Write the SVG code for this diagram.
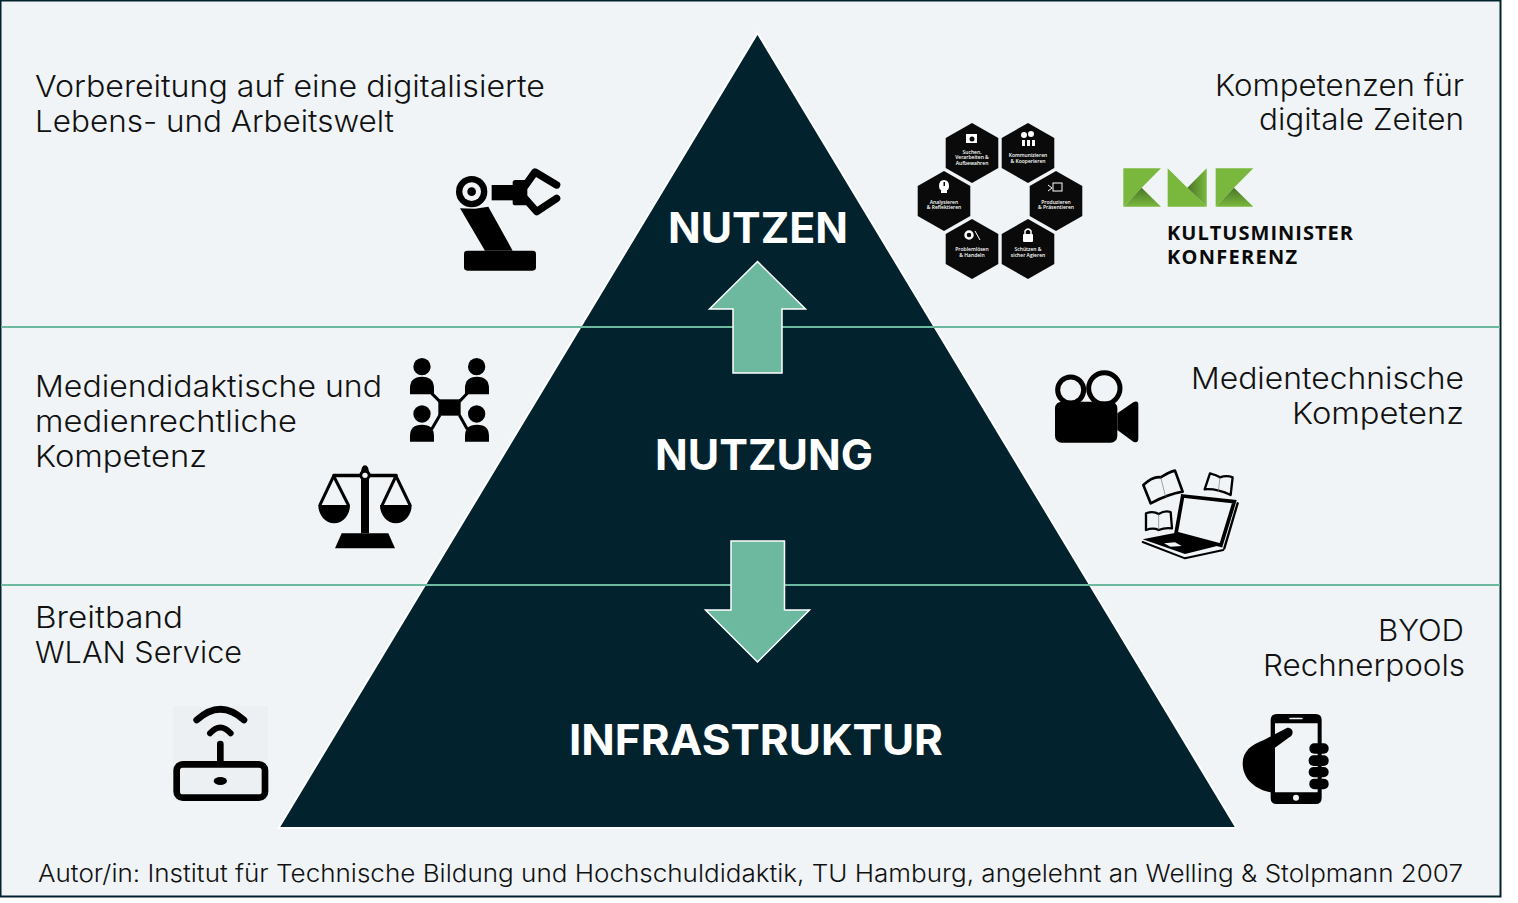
<svg xmlns="http://www.w3.org/2000/svg" width="1518" height="903" viewBox="0 0 1518 903">
<style>
.t{font-family:"Inter","Open Sans","Liberation Sans",sans-serif;font-size:30px;font-weight:300;fill:#111}
.f{font-size:24px}
.p{font-family:"Inter","Open Sans","Liberation Sans",sans-serif;font-size:42px;font-weight:700;fill:#fff}
.h{font-family:"Open Sans","Liberation Sans",sans-serif;font-size:5px;font-weight:600;fill:#fff;text-anchor:middle}
.k{font-family:"Open Sans","Liberation Sans",sans-serif;font-size:20px;font-weight:700;fill:#0a0a0a}
.hex{fill:#0a0a0a}
.d{stroke:#6db9a0;stroke-width:2;fill:none}
.a{fill:#6db9a0;stroke:#fff;stroke-width:1.5}
.ln{fill:none;stroke:#000;stroke-linecap:round;stroke-linejoin:round}
</style>
<defs>
<linearGradient id="g1" x1=".5" y1="0" x2=".5" y2="1"><stop offset="0" stop-color="#4a7528"/><stop offset="1" stop-color="#7ab83d"/></linearGradient>
<linearGradient id="g2" x1="0" y1=".5" x2="1" y2=".5"><stop offset="0" stop-color="#4a7528"/><stop offset="1" stop-color="#7ab83d"/></linearGradient>
<polygon id="hx" points="0,-30 26.3,-15 26.3,15 0,30 -26.3,15 -26.3,-15"/>
</defs>
<rect x="0" y="0" width="1518" height="903" fill="#fff"/>
<rect x="0.500" y="0.500" width="1500" height="896" fill="#f0f4f7" stroke="#02222e" stroke-width="2"/>

<g id="pyramid">
<polygon points="757.500,33 1236.500,828 278.500,828" fill="#02222e" stroke="#fff" stroke-width="2"/>
<text class="p" x="668" y="243" textLength="180" lengthAdjust="spacingAndGlyphs">NUTZEN</text>
<text class="p" x="655" y="470" textLength="218" lengthAdjust="spacingAndGlyphs">NUTZUNG</text>
<text class="p" x="569" y="755" textLength="374" lengthAdjust="spacingAndGlyphs">INFRASTRUKTUR</text>
</g>

<g id="connectors">
<line class="d" x1="1" y1="327" x2="1500" y2="327"/>
<line class="d" x1="1" y1="585" x2="1500" y2="585"/>
<polygon class="a" points="757.500,261.500 805.500,309 782,309 782,373 733,373 733,309 709.500,309"/>
<polygon class="a" points="731,541 784.500,541 784.500,610 809.500,610 757.500,662 705.500,610 731,610"/>
</g>

<g id="text-top-left">
<text class="t" x="35" y="97" textLength="510" lengthAdjust="spacingAndGlyphs">Vorbereitung auf eine digitalisierte</text>
<text class="t" x="35" y="132" textLength="359" lengthAdjust="spacingAndGlyphs">Lebens- und Arbeitswelt</text>
</g>
<g id="text-mid-left">
<text class="t" x="35" y="397" textLength="347" lengthAdjust="spacingAndGlyphs">Mediendidaktische und</text>
<text class="t" x="35" y="432" textLength="262" lengthAdjust="spacingAndGlyphs">medienrechtliche</text>
<text class="t" x="35" y="467" textLength="172" lengthAdjust="spacingAndGlyphs">Kompetenz</text>
</g>
<g id="text-bottom-left">
<text class="t" x="35" y="628" textLength="148" lengthAdjust="spacingAndGlyphs">Breitband</text>
<text class="t" x="35" y="663" textLength="207" lengthAdjust="spacingAndGlyphs">WLAN Service</text>
</g>
<g id="text-top-right">
<text class="t" x="1215" y="96" textLength="249" lengthAdjust="spacingAndGlyphs">Kompetenzen für</text>
<text class="t" x="1259" y="130" textLength="205" lengthAdjust="spacingAndGlyphs">digitale Zeiten</text>
</g>
<g id="text-mid-right">
<text class="t" x="1191" y="389" textLength="273" lengthAdjust="spacingAndGlyphs">Medientechnische</text>
<text class="t" x="1292" y="424" textLength="172" lengthAdjust="spacingAndGlyphs">Kompetenz</text>
</g>
<g id="text-bottom-right">
<text class="t" x="1378" y="641" textLength="86" lengthAdjust="spacingAndGlyphs">BYOD</text>
<text class="t" x="1263" y="676" textLength="202" lengthAdjust="spacingAndGlyphs">Rechnerpools</text>
</g>
<g id="footer">
<text class="t f" x="38" y="882" textLength="1425" lengthAdjust="spacingAndGlyphs">Autor/in: Institut für Technische Bildung und Hochschuldidaktik, TU Hamburg, angelehnt an Welling &amp; Stolpmann 2007</text>
</g>

<g id="icon-robot" transform="translate(440 160) scale(.3333)">
<circle cx="95" cy="95" r="47"/><circle cx="95" cy="95" r="28" fill="#f0f4f7"/><circle cx="95" cy="95" r="13"/>
<polygon points="60,145 105,146 145,140 218,272 135,272"/>
<rect x="72" y="272" width="216" height="60" rx="10"/>
<rect x="155" y="75" width="75" height="46"/>
<rect x="218" y="60" width="44" height="76" rx="8"/>
<path class="ln" stroke-width="22" d="M255,78 L285,36 L350,75"/>
<path class="ln" stroke-width="22" d="M255,115 L290,155 L350,115"/>
</g>

<g id="icon-network" transform="translate(300 350) scale(.3333)">
<circle cx="366" cy="50" r="26"/><circle cx="530" cy="50" r="26"/><circle cx="366" cy="192" r="26"/><circle cx="530" cy="192" r="26"/>
<path d="M330,133 V115 Q330,80 366,80 Q402,80 402,115 V133 Z"/>
<path d="M495,133 V115 Q495,80 531,80 Q567,80 567,115 V133 Z"/>
<path d="M330,275 V258 Q330,224 366,224 Q402,224 402,258 V275 Z"/>
<path d="M495,275 V258 Q495,224 531,224 Q567,224 567,258 V275 Z"/>
<rect x="415" y="148" width="67" height="49"/>
<path d="M395,130 L420,155 M502,130 L478,155 M395,238 L420,195 M502,238 L478,195" stroke="#000" stroke-width="9" fill="none"/>
</g>

<g id="icon-scales" transform="translate(300 350) scale(.3333)">
<path d="M183,372 Q183,346 195,346 Q207,346 207,372 V550 H183 Z"/>
<rect x="97" y="371" width="196" height="11" rx="4"/>
<circle cx="195" cy="376" r="17"/><circle cx="195" cy="376" r="8" fill="#f0f4f7"/>
<path class="ln" stroke-width="9" d="M60,465 L101,378 L145,465 M247,465 L288,378 L330,465"/>
<path d="M55,465 H150 A47.500,55 0 0 1 55,465 Z M240,465 H335 A47.500,55 0 0 1 240,465 Z"/>
<path d="M125,550 H265 L285,595 H105 Z"/>
</g>

<g id="icon-camera" transform="translate(1040 360) scale(.3333)">
<circle cx="92" cy="90" r="39" fill="none" stroke="#000" stroke-width="15"/>
<circle cx="193" cy="85" r="47" fill="none" stroke="#000" stroke-width="15"/>
<rect x="45" y="125" width="187" height="123" rx="20"/>
<path d="M232,160 L280,127 Q295,120 295,135 V235 Q295,252 280,245 L232,210 Z"/>
</g>

<g id="icon-laptop" transform="translate(1040 360) scale(.3333)">
<path class="ln" stroke-width="8" d="M310,375 Q340,348 362,352 Q390,335 405,332 L428,395 Q385,402 332,430 Z" fill="#f0f4f7"/>
<path d="M362,352 L377,410" stroke="#777" stroke-width="2" fill="none"/>
<path class="ln" stroke-width="7" d="M494,388 L510,340 Q530,345 540,352 Q560,345 578,352 L572,405 Q530,385 494,388 Z" fill="#f0f4f7"/>
<path d="M540,352 L535,395" stroke="#777" stroke-width="2" fill="none"/>
<path class="ln" stroke-width="7" d="M318,460 Q340,452 356,462 Q375,450 392,456 L396,505 Q375,502 356,510 Q340,502 318,510 Z" fill="#f0f4f7"/>
<path d="M356,462 V510" stroke="#777" stroke-width="2" fill="none"/>
<polygon points="428,408 583,425 543,556 408,520" fill="#f0f4f7" stroke="#000" stroke-width="11"/>
<path class="ln" stroke-width="7" d="M593,430 L553,565"/>
<path d="M308,538 L400,520 L540,556 L435,582 Z"/>
<path d="M372,550 L405,547 L425,558 L392,560 Z" fill="#f0f4f7"/>
<path class="ln" stroke-width="6" d="M308,546 L435,595 L550,570"/>
</g>

<g id="icon-router">
<rect x="173" y="706" width="95" height="95" fill="#edf0f3"/>
<g transform="translate(160 695) scale(.3333)">
<rect x="50" y="208" width="265" height="100" rx="18" fill="none" stroke="#000" stroke-width="20"/>
<line class="ln" x1="181" y1="147" x2="181" y2="205" stroke-width="20"/>
<ellipse cx="181" cy="258" rx="20" ry="12"/>
<path class="ln" stroke-width="20" d="M110,75 Q181,10 252,75"/>
<path class="ln" stroke-width="18" d="M150,115 Q181,80 212,115"/>
</g>
</g>

<g id="icon-phone" transform="translate(1230 705) scale(.3333)">
<path fill-rule="evenodd" d="M140,27 H257 Q275,27 275,45 V279 Q275,297 257,297 H140 Q122,297 122,279 V45 Q122,27 140,27 Z M135,55 V262 H263 V55 Z"/>
<rect x="178" y="38" width="40" height="5" rx="2" fill="#f0f4f7"/>
<circle cx="198" cy="278" r="9" fill="#f0f4f7"/>
<path d="M172,68 C192,68 192,90 178,97 L135,128 V258 L122,262 C80,255 38,225 38,175 C38,140 65,118 100,106 Z"/>
<rect x="238" y="115" width="58" height="31" rx="15"/>
<rect x="236" y="151" width="60" height="32" rx="15"/>
<rect x="236" y="186" width="60" height="31" rx="15"/>
<rect x="238" y="221" width="58" height="32" rx="15"/>
</g>

<g id="hex-suchen">
<use href="#hx" class="hex" x="972" y="153"/>
<rect x="966" y="134" width="11" height="9" fill="#fff"/><circle cx="972" cy="139" r="2.500" fill="#0a0a0a"/>
<text class="h" x="972" y="153.500">Suchen,</text><text class="h" x="972" y="159">Verarbeiten &amp;</text><text class="h" x="972" y="164.500">Aufbewahren</text>
</g>
<g id="hex-kommunizieren">
<use href="#hx" class="hex" x="1028" y="153"/>
<circle cx="1024" cy="135" r="3" fill="#fff"/><circle cx="1031" cy="134" r="3" fill="#fff"/><rect x="1022" y="140" width="3" height="6" fill="#fff"/><rect x="1027" y="140" width="3" height="6" fill="#fff"/><rect x="1032" y="140" width="3" height="6" fill="#fff"/>
<text class="h" x="1028" y="157">Kommunizieren</text><text class="h" x="1028" y="162.500">&amp; Kooperieren</text>
</g>
<g id="hex-produzieren">
<use href="#hx" class="hex" x="1056" y="201"/>
<rect x="1053" y="183" width="9" height="8" fill="none" stroke="#fff" stroke-width="1"/><path d="M1048,185 L1052,188 L1048,191" fill="none" stroke="#fff" stroke-width="1"/>
<text class="h" x="1056" y="203.500">Produzieren</text><text class="h" x="1056" y="209">&amp; Präsentieren</text>
</g>
<g id="hex-schuetzen">
<use href="#hx" class="hex" x="1028" y="249"/>
<rect x="1023" y="234" width="10" height="8" rx="1" fill="#fff"/><path d="M1025,234 V231 Q1028,227 1031,231 V234" fill="none" stroke="#fff" stroke-width="1.500"/>
<text class="h" x="1028" y="251">Schützen &amp;</text><text class="h" x="1028" y="257">sicher Agieren</text>
</g>
<g id="hex-problemloesen">
<use href="#hx" class="hex" x="972" y="249"/>
<circle cx="969" cy="235" r="3.500" fill="none" stroke="#fff" stroke-width="2.500"/><line x1="975" y1="231" x2="980" y2="240" stroke="#fff" stroke-width="1"/>
<text class="h" x="972" y="251">Problemlösen</text><text class="h" x="972" y="257">&amp; Handeln</text>
</g>
<g id="hex-analysieren">
<use href="#hx" class="hex" x="944" y="201"/>
<path d="M939,186 Q939,180 944,180 Q949,180 949,186 Q949,190 947,190 V193 H941 V190 Q939,189 939,186 Z" fill="#fff"/><rect x="943.500" y="182" width="1.500" height="4" fill="#0a0a0a"/>
<text class="h" x="944" y="203.500">Analysieren</text><text class="h" x="944" y="209">&amp; Reflektieren</text>
</g>

<g id="logo-kmk" transform="translate(1110 150) scale(.3333)">
<polygon points="40,55 153,55 95,113 40,170" fill="#7ab83d"/>
<polygon points="40,170 95,113 153,170" fill="url(#g1)"/>
<polygon points="173,55 232,113 290,170 173,170" fill="#7ab83d"/>
<polygon points="290,55 290,170 232,113" fill="url(#g2)"/>
<polygon points="317,55 430,55 372,113 317,170" fill="#7ab83d"/>
<polygon points="317,170 372,113 430,170" fill="url(#g1)"/>
</g>
<g id="logo-kmk-text">
<text class="k" x="1167" y="240" textLength="186" lengthAdjust="spacing">KULTUSMINISTER</text>
<text class="k" x="1167" y="264" textLength="130" lengthAdjust="spacing">KONFERENZ</text>
</g>
</svg>
